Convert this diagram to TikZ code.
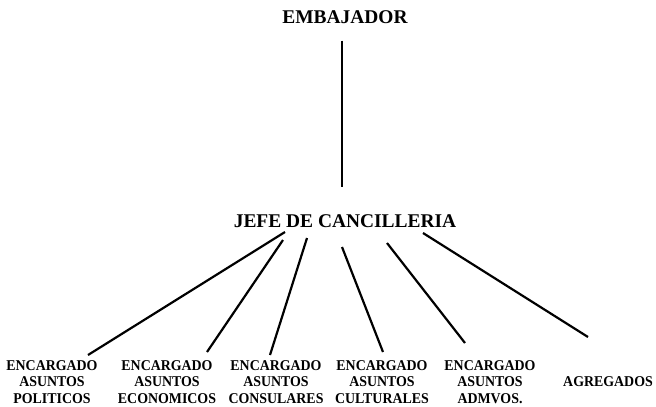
\documentclass[tikz,border=0pt]{standalone}
\usepackage{fontspec}
\setmainfont{Liberation Serif}
\newfontfamily\unitfont[FakeStretch=0.93]{Liberation Serif}
\usepackage{tikz}
\usetikzlibrary{positioning, calc}

\begin{document}
\begin{tikzpicture}[
    x=1bp, y=-1bp,
    title label/.style={font=\bfseries\fontsize{19.5}{22}\selectfont, inner sep=2pt},
    unit label/.style={font=\unitfont\bfseries\fontsize{15}{16.5}\selectfont, align=center, inner sep=0pt},
    link line/.style={black, line width=2.2pt}
]

\useasboundingbox (0,0) rectangle (656,406);

% --- 1. Top levels ---
\node[title label] (emb) at (345,17) {EMBAJADOR};
\node[title label] (jefe) at (345,221) {JEFE DE CANCILLERIA};

% --- 2. Bottom units ---
\node[unit label] (pol)  at (52,382)  {ENCARGADO\\ASUNTOS\\POLITICOS};
\node[unit label] (eco)  at (167,382) {ENCARGADO\\ASUNTOS\\ECONOMICOS};
\node[unit label] (cons) at (276,382) {ENCARGADO\\ASUNTOS\\CONSULARES};
\node[unit label] (cult) at (382,382) {ENCARGADO\\ASUNTOS\\CULTURALES};
\node[unit label] (adm)  at (490,382) {ENCARGADO\\ASUNTOS\\ADMVOS.};
\node[unit label] (agr)  at (608,382) {AGREGADOS};

% --- 3. Line ends ---
\coordinate (j1) at (285,232);
\coordinate (j2) at (283,240);
\coordinate (j3) at (307,238);
\coordinate (j4) at (342,247);
\coordinate (j5) at (387,243);
\coordinate (j6) at (423,233);

\coordinate (e1) at (88,355);
\coordinate (e2) at (207,352);
\coordinate (e3) at (270,355);
\coordinate (e4) at (383,352);
\coordinate (e5) at (465,343);
\coordinate (e6) at (588,337);

% --- 4. Connectors ---
\draw[link line, shorten <=15, shorten >=25]
    ([xshift=-3]emb.south) -- ([xshift=-3]emb.south |- jefe.north);

\begin{scope}[link line]
    \draw (j1) -- (e1);
    \draw (j2) -- (e2);
    \draw (j3) -- (e3);
    \draw (j4) -- (e4);
    \draw (j5) -- (e5);
    \draw (j6) -- (e6);
\end{scope}

\end{tikzpicture}
\end{document}
